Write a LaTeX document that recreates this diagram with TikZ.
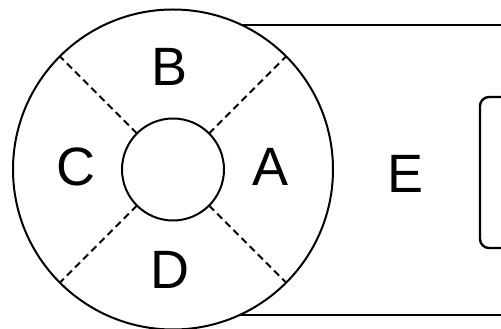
\documentclass[tikz,border=0pt]{standalone}
\usepackage{fontspec}
\setmainfont{Liberation Sans}
\usetikzlibrary{calc}
\begin{document}
\begin{tikzpicture}[x=1pt,y=1pt,line width=2pt,
  letter/.style={font=\fontsize{54}{54}\selectfont, inner sep=0pt},
  sector/.style={dashed, dash pattern=on 7pt off 4.5pt}]
\useasboundingbox (0,0) rectangle (501,329);
\coordinate (O) at (173,159.5);
\coordinate (T1) at (235,304);
\coordinate (T2) at (520,304);
\coordinate (B1) at (235,14);
\coordinate (B2) at (520,14);

% box behind the wheel
\draw[line width=2.6pt] (T1) -- (T2);
\draw[line width=2.6pt] (B1) -- (B2);
\draw[line width=2.4pt, rounded corners=9pt] (530,232) -- (480,232) -- (480,81) -- (530,81);

% wheel
\draw[fill=white] (O) circle (160);
\draw (O) circle (51);
\foreach \a in {45,135,225,315}
  \draw[sector] ($(O)+(\a:51)$) -- ($(O)+(\a:160)$);

\node[letter] (A) at (271,162) {A};
\node[letter] (B) at (170,262) {B};
\node[letter] (C) at (76,162) {C};
\node[letter] (D) at (170,59) {D};
\node[letter] (E) at (406,155) {E};
\end{tikzpicture}
\end{document}
